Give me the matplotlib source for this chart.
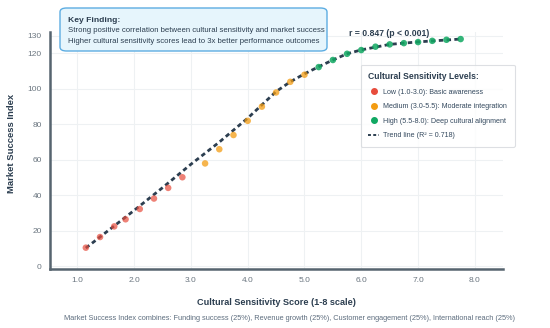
import matplotlib
matplotlib.use("Agg")
import matplotlib.pyplot as plt
from matplotlib.lines import Line2D
from matplotlib.patches import FancyBboxPatch

plt.rcParams['font.family'] = ['Liberation Sans', 'DejaVu Sans']

# ---- data ----
low_x = [1.15, 1.40, 1.65, 1.85, 2.10, 2.35, 2.60, 2.85]
low_y = [10.5, 16.5, 22.5, 26.5, 32.3, 38.2, 44.2, 50.2]
med_x = [3.25, 3.50, 3.75, 4.00, 4.25, 4.50, 4.75, 5.00]
med_y = [58.0, 66.0, 74.0, 82.0, 90.0, 98.0, 104.0, 108.0]
high_x = [5.25, 5.50, 5.75, 6.00, 6.25, 6.50, 6.75, 7.00, 7.25, 7.50, 7.75]
high_y = [112.3, 116.3, 119.8, 121.9, 123.8, 125.1, 125.8, 126.4, 127.1, 127.7, 128.1]

# fitted trend curve
trend_x = [1.15, 2.0, 2.5, 3.0, 3.5, 4.0, 4.5, 4.75, 5.0, 5.25, 5.5, 5.75, 6.0, 6.5, 7.0, 7.75]
trend_y = [10.3, 31.5, 44.3, 57.5, 70.0, 83.5, 98.5, 104.0, 108.5, 112.5, 116.3, 119.8, 122.0, 125.1, 126.5, 128.1]

x_ticks = [1, 2, 3, 4, 5, 6, 7, 8]
x_tick_labels = ["1.0", "2.0", "3.0", "4.0", "5.0", "6.0", "7.0", "8.0"]
y_ticks = [0, 20, 40, 60, 80, 100, 120, 130]

legend_labels = ["Low (1.0-3.0): Basic awareness",
                 "Medium (3.0-5.5): Moderate integration",
                 "High (5.5-8.0): Deep cultural alignment",
                 "Trend line (R² = 0.718)"]

# ---- figure ----
fig = plt.figure(figsize=(5.5, 3.28), dpi=100)
ax = fig.add_axes([0.091, 0.180, 0.824, 0.722])

c_low, c_med, c_high, c_line = "#e74c3c", "#f39c12", "#10a862", "#2c3e50"

ax.plot(trend_x, trend_y, color=c_line, lw=2.0, linestyle=(0, (1.6, 1.2)), zorder=3)

ax.scatter(low_x, low_y, s=22, color=c_low, alpha=0.7, edgecolors='none', zorder=4)
ax.scatter(med_x, med_y, s=22, color=c_med, alpha=0.75, edgecolors='none', zorder=4)
ax.scatter(high_x, high_y, s=22, color=c_high, alpha=0.85, edgecolors='none', zorder=4)

ax.set_xlim(0.52, 8.5)
ax.set_ylim(-1.5, 132)
ax.set_xticks(x_ticks)
ax.set_xticklabels(x_tick_labels)
ax.set_yticks(y_ticks)
ax.tick_params(axis='both', labelsize=6, colors="#6b7680", length=0, pad=6)
for lab in ax.get_xticklabels() + ax.get_yticklabels():
    lab.set_color("#6b7680")

ax.grid(True, color="#eef1f3", lw=0.8)
ax.set_axisbelow(True)
for s in ["top", "right"]:
    ax.spines[s].set_visible(False)
for s in ["left", "bottom"]:
    ax.spines[s].set_color("#56646f")
    ax.spines[s].set_linewidth(1.8)

ax.set_xlabel("Cultural Sensitivity Score (1-8 scale)", fontsize=6.6,
              fontweight='bold', color="#2c3e50", labelpad=10)
ax.set_ylabel("Market Success Index", fontsize=6.8, fontweight='bold',
              color="#2c3e50")
ax.yaxis.set_label_coords(-0.075, 0.53)

# Key finding box
box = FancyBboxPatch((60 / 550, 1 - 51 / 328), (327 - 60) / 550, (51 - 8) / 328,
                     boxstyle="round,pad=0,rounding_size=0.012",
                     transform=fig.transFigure, facecolor="#e6f5fc",
                     edgecolor="#5dade2", lw=1.0, zorder=1)
fig.patches.append(box)
fig.text(68 / 550, 1 - 20 / 328, "Key Finding:", fontsize=6.1, fontweight='bold',
         color="#2c3e50", va='center', ha='left', zorder=6)
fig.text(68 / 550, 1 - 30.5 / 328,
         "Strong positive correlation between cultural sensitivity and market success",
         fontsize=5.6, color="#2c3e50", va='center', ha='left', zorder=6)
fig.text(68 / 550, 1 - 41.5 / 328,
         "Higher cultural sensitivity scores lead to 3x better performance outcomes",
         fontsize=5.6, color="#2c3e50", va='center', ha='left', zorder=6)

fig.text(389 / 550, 1 - 33 / 328, "r = 0.847 (p < 0.001)", fontsize=6.2,
         fontweight='bold', color="#2c3e50", va='center', ha='center')

# legend
handles = [
    Line2D([], [], marker='o', ls='none', color=c_low, markersize=4.0),
    Line2D([], [], marker='o', ls='none', color=c_med, markersize=4.0),
    Line2D([], [], marker='o', ls='none', color=c_high, markersize=4.0),
    Line2D([], [], color=c_line, lw=1.4, linestyle=(0, (1.5, 1.2))),
]
leg = ax.legend(handles, legend_labels, title="Cultural Sensitivity Levels:",
                loc='upper left', bbox_to_anchor=(361 / 550, 1 - 65 / 328),
                bbox_transform=fig.transFigure, fontsize=5.1, borderaxespad=0,
                title_fontproperties={'weight': 'bold', 'size': 6.2},
                frameon=True, fancybox=True, handlelength=1.5, handletextpad=0.6,
                labelspacing=1.05, borderpad=1.05, alignment='left')
leg.get_frame().set_edgecolor("#d5d8dc")
leg.get_frame().set_linewidth(0.8)
leg.get_title().set_color("#2c3e50")
for t in leg.get_texts():
    t.set_color("#34495e")

fig.text(289 / 550, 1 - 318 / 328,
         "Market Success Index combines: Funding success (25%), Revenue growth (25%), "
         "Customer engagement (25%), International reach (25%)",
         fontsize=5.3, color="#5d6d7e", va='center', ha='center')

fig.savefig("out.png", dpi=100, facecolor="white")
